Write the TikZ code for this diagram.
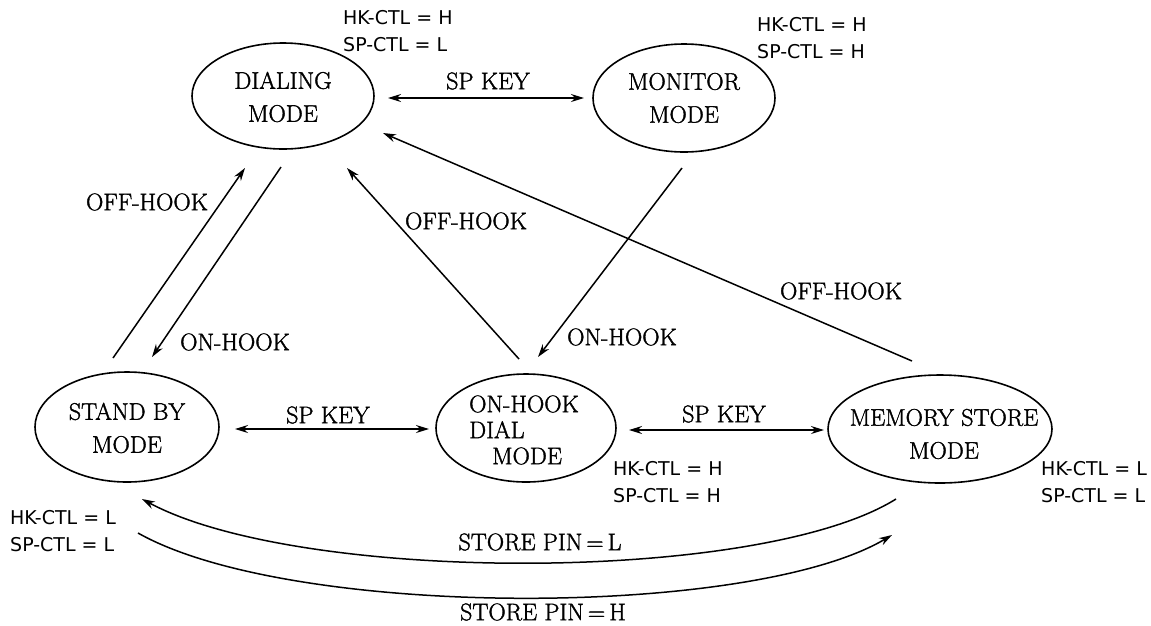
\documentclass[tikz,border=0pt]{standalone}
\usepackage{fontspec}
\newfontfamily\labfont{DejaVu Sans}
\newfontfamily\scanfont{Latin Modern Roman}[FakeBold=1.5]
\usetikzlibrary{arrows.meta,shapes.geometric}
\tikzset{
  state/.style={ellipse, draw, line width=1.6pt, inner sep=0pt},
  statetext/.style={align=center, inner sep=0pt, font=\scanfont\fontsize{24}{33}\selectfont},
  conn/.style={line width=1.5pt, -{Stealth[length=13pt,width=8pt]}},
  biconn/.style={line width=1.5pt, {Stealth[length=13pt,width=8pt]}-{Stealth[length=13pt,width=8pt]}},
  edgelab/.style={inner sep=0pt, font=\scanfont\fontsize{24}{26}\selectfont},
  ctl/.style={anchor=west, inner sep=0pt, align=left, font=\labfont\fontsize{19}{27}\selectfont}
}
\begin{document}
\begin{tikzpicture}[x=1pt,y=-1pt]
\useasboundingbox (0,0) rectangle (1151,625);
% states
\node[state, minimum width=182pt, minimum height=106pt,
      label={[statetext, yshift=-1pt]center:{DIALING\\MODE}}] (dial) at (283,96) {};
\node[state, minimum width=182pt, minimum height=108pt,
      label={[statetext]center:{MONITOR\\MODE}}] (mon) at (684,98) {};
\node[state, minimum width=184pt, minimum height=110pt,
      label={[statetext, yshift=-1pt]center:{STAND BY\\MODE}}] (stby) at (127,427) {};
\node[state, minimum width=180pt, minimum height=108pt,
      label={[statetext, align=left, font=\scanfont\fontsize{24}{26}\selectfont, xshift=-2pt, yshift=-2pt]center:{ON-HOOK\\DIAL\\\hspace*{23pt}MODE}}] (ohd) at (526,428) {};
\node[state, minimum width=224pt, minimum height=108pt,
      label={[statetext, xshift=4pt, yshift=-5pt]center:{MEMORY STORE\\MODE}}] (mem) at (940,429) {};
% control labels
\node[ctl] (c1) at (343,31) {HK-CTL = H\\SP-CTL = L};
\node[ctl] (c2) at (757,38) {HK-CTL = H\\SP-CTL = H};
\node[ctl] (c3) at (613,482) {HK-CTL = H\\SP-CTL = H};
\node[ctl] (c4) at (1041,482) {HK-CTL = L\\SP-CTL = L};
\node[ctl] (c5) at (10,531) {HK-CTL = L\\SP-CTL = L};
% connector end points
\coordinate (k1a) at (388,98);  \coordinate (k1b) at (584,98);
\coordinate (k2a) at (235,429); \coordinate (k2b) at (429,429);
\coordinate (k3a) at (629,430); \coordinate (k3b) at (824,430);
\coordinate (f1a) at (113,358); \coordinate (f1b) at (245,168);
\coordinate (o1a) at (281,167); \coordinate (o1b) at (152,357);
\coordinate (f2a) at (519,359); \coordinate (f2b) at (347,168);
\coordinate (o2a) at (682,168); \coordinate (o2b) at (538,357);
\coordinate (f3a) at (912,361); \coordinate (f3b) at (383,133);
\coordinate (sla) at (896,499); \coordinate (slb) at (142,499);
\coordinate (sha) at (138,533); \coordinate (shb) at (892,535);
% connectors
\draw[biconn] (k1a) -- (k1b);
\draw[biconn] (k2a) -- (k2b);
\draw[biconn] (k3a) -- (k3b);
\draw[conn] (f1a) -- (f1b);
\draw[conn] (o1a) -- (o1b);
\draw[conn] (f2a) -- (f2b);
\draw[conn] (o2a) -- (o2b);
\draw[conn] (f3a) -- (f3b);
\draw[conn] (sla) .. controls (760,584) and (300,584) .. (slb);
\draw[conn] (sha) .. controls (290,619) and (750,619) .. (shb);
% edge labels
\node[edgelab] (lk1) at (488,81) {SP\ KEY};
\node[edgelab] (lk2) at (328,415) {SP\ KEY};
\node[edgelab] (lk3) at (724,414) {SP\ KEY};
\node[edgelab] (lf1) at (147,202) {OFF-HOOK};
\node[edgelab] (lo1) at (235,342) {ON-HOOK};
\node[edgelab] (lf2) at (466,221) {OFF-HOOK};
\node[edgelab] (lo2) at (622,337) {ON-HOOK};
\node[edgelab] (lf3) at (841,291) {OFF-HOOK};
\node[edgelab] (lsl) at (540,542) {STORE\ PIN\,=\,L};
\node[edgelab] (lsh) at (543,612) {STORE\ PIN\,=\,H};
\end{tikzpicture}
\end{document}
